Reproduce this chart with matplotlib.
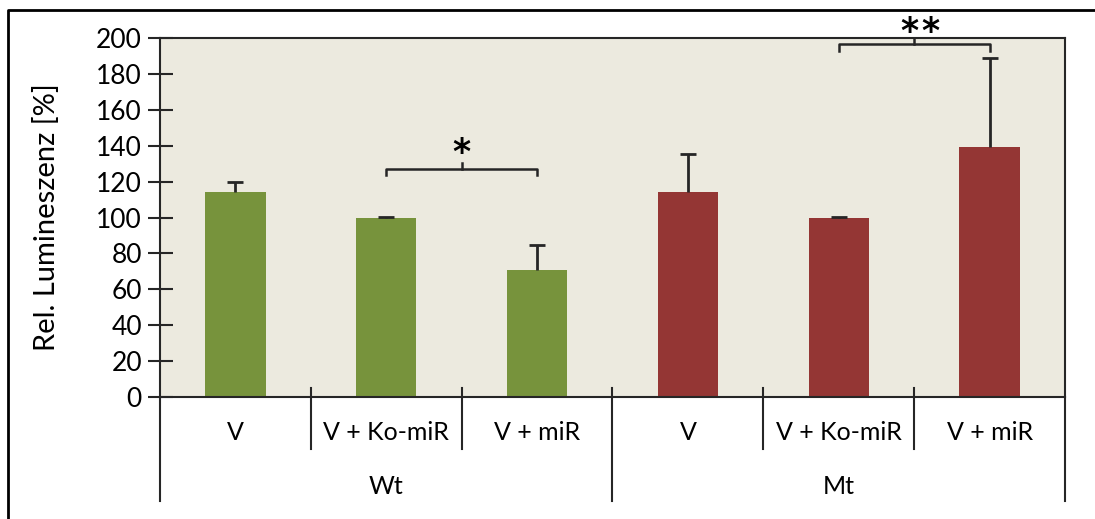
import numpy as np
import matplotlib.pyplot as plt
from matplotlib.lines import Line2D

plt.rcParams['font.family'] = ['Lato', 'DejaVu Sans']

groups = ["Wt", "Mt"]
conditions = ["V", "V + Ko-miR", "V + miR"]
wt_vals = np.array([114.2, 100.0, 70.5])
wt_err = np.array([5.8, 0.3, 14.0])
mt_vals = np.array([114.4, 100.0, 139.0])
mt_err = np.array([20.8, 0.3, 50.0])
sig_pairs = [(1, 2, 1), (4, 5, 2)]  # (left bar, right bar, number of stars)

green = "#77933C"
red = "#943634"
ink = "#262626"

values = np.concatenate([wt_vals, mt_vals])
errors = np.concatenate([wt_err, mt_err])
colors = [green] * 3 + [red] * 3
x = np.arange(len(values))

fig = plt.figure(figsize=(10.95, 5.19), dpi=100)
ax = fig.add_axes([160 / 1095, 1 - 397 / 519, 905 / 1095, 359 / 519])
ax.set_facecolor("#ECEADF")

ax.bar(x, values, width=0.4, color=colors, zorder=2)
eb = ax.errorbar(x, values, yerr=[np.zeros_like(errors), errors], fmt="none",
                 ecolor=ink, elinewidth=2, capsize=6, capthick=2, zorder=3)
eb[1][0].set_visible(False)

ax.set_xlim(-0.5, 5.5)
ax.set_ylim(0, 200)
ax.set_yticks(np.arange(0, 201, 20))
ax.tick_params(axis="y", direction="inout", length=18, width=1.5, color=ink,
               labelsize=19, pad=4)
ax.tick_params(axis="x", bottom=False, labelbottom=False)
for s in ax.spines.values():
    s.set_color(ink)
    s.set_linewidth(1.5)
ax.set_ylabel("Rel. Lumineszenz [%]", fontsize=21, labelpad=26)

# category axis below the plot
trans = ax.get_xaxis_transform()
for b in [0.5, 1.5, 3.5, 4.5]:
    ax.add_line(Line2D([b, b], [0.025, -0.145], transform=trans, color=ink,
                       lw=1.5, clip_on=False))
for b in [-0.5, 2.5, 5.5]:
    ax.add_line(Line2D([b, b], [0.025 if b == 2.5 else 0, -0.29], transform=trans,
                       color=ink, lw=1.5, clip_on=False))
for i, c in enumerate(conditions * 2):
    ax.text(i, -0.10, c, transform=trans, ha="center", va="center", fontsize=18)
for i, g in enumerate(groups):
    ax.text(1 + 3 * i, -0.25, g, transform=trans, ha="center", va="center", fontsize=18)

# significance brackets
for (a, b, n), h, sy in zip(sig_pairs, [127.0, 196.4], [136.0, 203.5]):
    ax.plot([a, a, b, b], [h - 3.5, h, h, h - 3.5], color=ink, lw=1.8, clip_on=False, zorder=4)
    ax.plot([(a + b) / 2] * 2, [h, h + 3.5], color=ink, lw=1.8, clip_on=False, zorder=4)
    centers = [(a + b) / 2] if n == 1 else [4.466, 4.605]
    for cx in centers:
        ax.text(cx, sy, "*", ha="center", va="center", fontsize=25,
                fontweight="bold", fontfamily="DejaVu Sans", clip_on=False)

# outer frame
fig.add_artist(Line2D([8 / 1095, 8 / 1095, 1], [0, 1 - 10 / 519, 1 - 10 / 519],
                      color="black", lw=2))

fig.savefig("out.png", dpi=100)
